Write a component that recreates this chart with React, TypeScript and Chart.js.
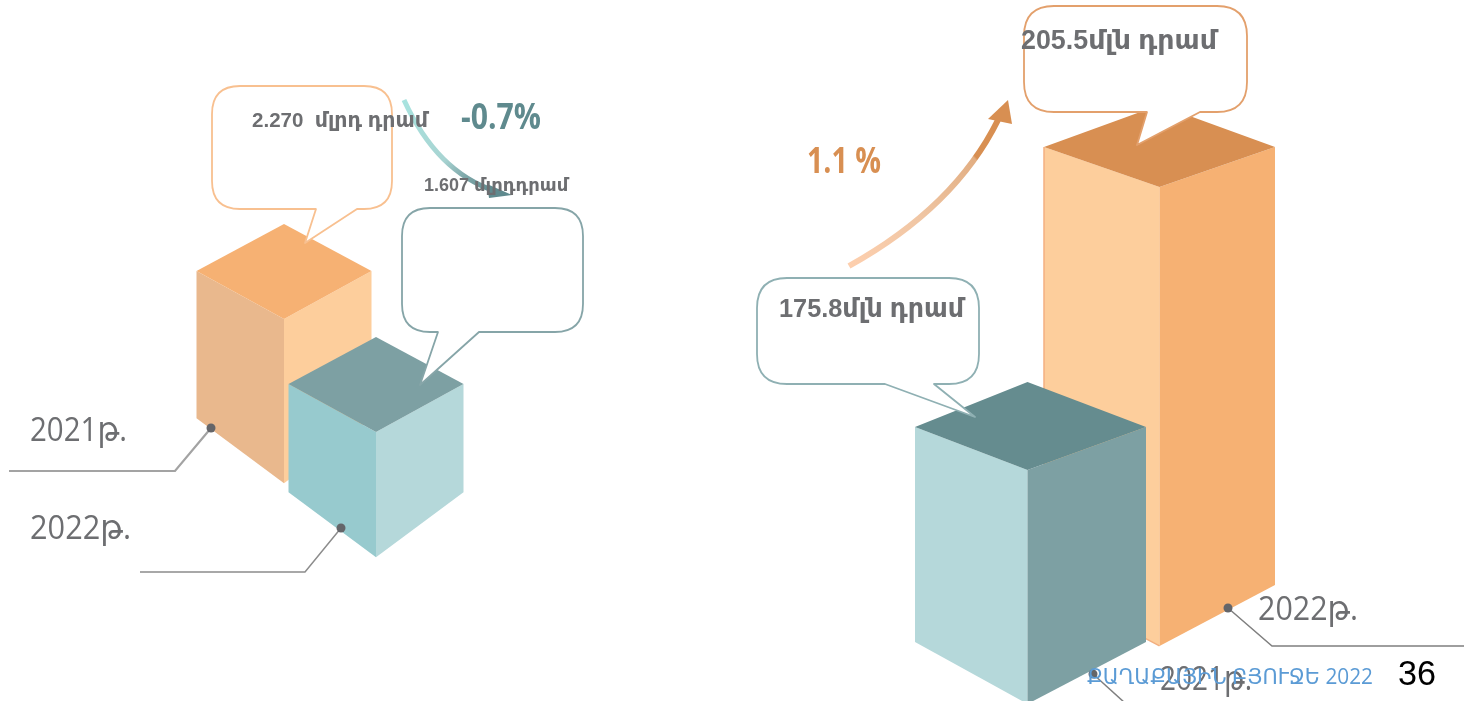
import React, { useEffect, useRef } from "react";
import { Chart, registerables } from "chart.js";

Chart.register(...registerables);

// ---------- data ----------
const spendingYears = ["2021թ.", "2022թ."];
const spendingTops = [2.27, 1.607];
const spendingFloors = [1.405, 0.972];
const spendingLabels = ["2.270  մլրդ դրամ", "1.607 մլրդդրամ"];
const spendingChange = "-0.7%";

const revenueYears = ["2022թ.", "2021թ."];
const revenueTops = [205.5, 175.8];
const revenueFloors = [159.05, 153.0];
const revenueLabels = ["205.5մլն դրամ", "175.8մլն դրամ"];
const revenueChange = "1.1 %";

const footerText = "ՔԱՂԱՔԱՅԻՆ ԲՅՈՒՋԵ 2022";
const pageNumber = "36";

// ---------- styles ----------
const GREY = "#6D6E71";
const SANS = '"Liberation Sans", "DejaVu Sans", sans-serif';
const LIGHT = '"Open Sans", "DejaVu Sans", sans-serif';

type Pt = [number, number];
type Callout = { x: number; y: number; w: number; h: number; r: number; tail: [Pt, Pt, Pt]; stroke: string };
type Txt = { s: string; x: number; y: number; font: string; color: string; maxW?: number };
type Leader = { pts: Pt[]; color: string; width: number };
type Arrow = { from: Pt; ctrl: Pt; to: Pt; width: number; stops: [number, string][]; head: Pt[]; headColor: string };
type Face = { left: string; right: string; top: string; edge?: string; rise: number; fall: number; drop: number; skew: number };

type Panel = {
  left: number;
  labels: string[];
  tops: number[];
  floors: number[];
  yMin: number;
  yMax: number;
  padLeft: number;
  padRight: number;
  thickness: number;
  reverse: boolean;
  faces: Face[];
  callouts: Callout[];
  texts: Txt[];
  leaders: Leader[];
  arrow: Arrow;
};

const spendingPanel: Panel = {
  left: 0,
  labels: spendingYears,
  tops: spendingTops,
  floors: spendingFloors,
  yMin: -0.2535,
  yMax: 3.86,
  padLeft: 238,
  padRight: 310,
  thickness: 175,
  reverse: false,
  faces: [
    { left: "#E9B88D", right: "#FDCE9C", top: "#F6B173", rise: 47, fall: 48, drop: 65, skew: 0 },
    { left: "#97CACE", right: "#B5D8DA", top: "#7DA0A3", rise: 47, fall: 48, drop: 65, skew: 0 },
  ],
  callouts: [
    { x: 212, y: 86, w: 180, h: 123, r: 28, tail: [[316, 209], [305, 243], [357, 209]], stroke: "#F8C090" },
    { x: 402, y: 208, w: 181, h: 124, r: 28, tail: [[438, 332], [420, 385], [479, 332]], stroke: "#86A5A8" },
  ],
  texts: [
    { s: spendingLabels[0], x: 252, y: 127, font: `bold 21px ${SANS}`, color: GREY, maxW: 176 },
    { s: spendingLabels[1], x: 424, y: 191, font: `bold 18px ${SANS}`, color: GREY, maxW: 145 },
    { s: spendingChange, x: 461, y: 129, font: `bold 35px ${LIGHT}`, color: "#5F8A8E", maxW: 80 },
    { s: spendingYears[0], x: 30, y: 441, font: `33px ${LIGHT}`, color: GREY, maxW: 97 },
    { s: spendingYears[1], x: 30, y: 539, font: `33px ${LIGHT}`, color: GREY, maxW: 101 },
  ],
  leaders: [
    { pts: [[211, 428], [175, 471], [9, 471]], color: "#A3A3A3", width: 2.2 },
    { pts: [[341, 528], [305, 572], [140, 572]], color: "#8C8C8C", width: 1.5 },
  ],
  arrow: {
    from: [404, 100],
    ctrl: [437, 172],
    to: [495, 191],
    width: 5,
    stops: [[0, "#A8E3DF"], [0.55, "#A8D4D2"], [0.75, "#7FA8AA"], [1, "#5F8A8E"]],
    head: [[512, 195], [487, 184], [489, 198]],
    headColor: "#5F8A8E",
  },
};

const revenuePanel: Panel = {
  left: 732,
  labels: revenueYears,
  tops: revenueTops,
  floors: revenueFloors,
  yMin: 146.74,
  yMax: 221.09,
  padLeft: 234,
  padRight: 240,
  thickness: 231,
  reverse: true,
  faces: [
    { left: "#FDCE9C", right: "#F6B173", top: "#D88F52", edge: "#F3B081", rise: 42, fall: 40, drop: 61, skew: 0 },
    { left: "#B5D8DA", right: "#7DA0A3", top: "#658C8F", rise: 45, fall: 43, drop: 62, skew: -3 },
  ],
  callouts: [
    { x: 1024, y: 6, w: 223, h: 106, r: 30, tail: [[1147, 112], [1137, 145], [1200, 112]], stroke: "#E3A06C" },
    { x: 757, y: 278, w: 222, h: 106, r: 30, tail: [[885, 384], [975, 417], [934, 384]], stroke: "#8FB0B3" },
  ],
  texts: [
    { s: revenueLabels[0], x: 1021, y: 49, font: `bold 27px ${SANS}`, color: GREY, maxW: 196 },
    { s: revenueLabels[1], x: 779, y: 317, font: `bold 26px ${SANS}`, color: GREY, maxW: 185 },
    { s: revenueChange, x: 807, y: 173, font: `bold 36px ${LIGHT}`, color: "#D88F52", maxW: 74 },
    { s: revenueYears[0], x: 1258, y: 620, font: `33px ${LIGHT}`, color: GREY, maxW: 100 },
    { s: revenueYears[1], x: 1160, y: 690, font: `33px ${LIGHT}`, color: GREY, maxW: 92 },
    { s: footerText, x: 1087, y: 684, font: `21.5px ${LIGHT}`, color: "#5B9BD5", maxW: 286 },
    { s: pageNumber, x: 1398, y: 685, font: `35px ${SANS}`, color: "#000000", maxW: 38 },
  ],
  leaders: [
    { pts: [[1228, 608], [1272, 646], [1464, 646]], color: "#7F7F7F", width: 1.5 },
    { pts: [[1093, 674], [1125, 703]], color: "#7F7F7F", width: 1.5 },
  ],
  arrow: {
    from: [849, 266],
    ctrl: [955, 207],
    to: [998, 120],
    width: 6,
    stops: [[0, "#FDCFAE"], [0.4, "#F0C6A4"], [0.79, "#E2AE82"], [0.8, "#D88F52"], [1, "#D88F52"]],
    head: [[1008, 100], [988, 119], [1012, 124]],
    headColor: "#D88F52",
  },
};

function poly(ctx: CanvasRenderingContext2D, pts: Pt[], fill: string) {
  ctx.beginPath();
  pts.forEach(([x, y], i) => (i ? ctx.lineTo(x, y) : ctx.moveTo(x, y)));
  ctx.closePath();
  ctx.fillStyle = fill;
  ctx.fill();
}

function drawCallout(ctx: CanvasRenderingContext2D, c: Callout) {
  const { x, y, w, h, r } = c;
  const [a, tip, b] = c.tail;
  ctx.beginPath();
  ctx.moveTo(x + r, y);
  ctx.lineTo(x + w - r, y);
  ctx.quadraticCurveTo(x + w, y, x + w, y + r);
  ctx.lineTo(x + w, y + h - r);
  ctx.quadraticCurveTo(x + w, y + h, x + w - r, y + h);
  ctx.lineTo(b[0], b[1]);
  ctx.lineTo(tip[0], tip[1]);
  ctx.lineTo(a[0], a[1]);
  ctx.lineTo(x + r, y + h);
  ctx.quadraticCurveTo(x, y + h, x, y + h - r);
  ctx.lineTo(x, y + r);
  ctx.quadraticCurveTo(x, y, x + r, y);
  ctx.closePath();
  ctx.fillStyle = "#FFFFFF";
  ctx.fill();
  ctx.strokeStyle = c.stroke;
  ctx.lineWidth = 1.8;
  ctx.lineJoin = "round";
  ctx.stroke();
}

function drawArrow(ctx: CanvasRenderingContext2D, a: Arrow) {
  const g = ctx.createLinearGradient(a.from[0], a.from[1], a.to[0], a.to[1]);
  a.stops.forEach(([o, col]) => g.addColorStop(o, col));
  ctx.beginPath();
  ctx.moveTo(a.from[0], a.from[1]);
  ctx.quadraticCurveTo(a.ctrl[0], a.ctrl[1], a.to[0], a.to[1]);
  ctx.strokeStyle = g;
  ctx.lineWidth = a.width;
  ctx.lineCap = "butt";
  ctx.stroke();
  poly(ctx, a.head, a.headColor);
}

function boxPlugin(p: Panel) {
  return {
    id: "isoBoxes",
    beforeDatasetDraw() {
      return false;
    },
    afterDatasetsDraw(chart: any) {
      const ctx: CanvasRenderingContext2D = chart.ctx;
      const meta = chart.getDatasetMeta(0);
      ctx.save();
      meta.data.forEach((el: any, i: number) => {
        const { x, y, base, width } = el.getProps(["x", "y", "base", "width"], true);
        const f = p.faces[i];
        const l = x - width / 2;
        const r = x + width / 2;
        const c = x + f.skew;
        poly(ctx, [[l, y], [c, y + f.fall], [c, base + f.drop], [l, base]], f.left);
        poly(ctx, [[c, y + f.fall], [r, y], [r, base], [c, base + f.drop]], f.right);
        poly(ctx, [[l, y], [c, y - f.rise], [r, y], [c, y + f.fall]], f.top);
        if (f.edge) {
          ctx.beginPath();
          ctx.moveTo(l, y);
          ctx.lineTo(l, base);
          ctx.lineTo(c, base + f.drop);
          ctx.strokeStyle = f.edge;
          ctx.lineWidth = 1.5;
          ctx.stroke();
        }
      });
      ctx.translate(-p.left, 0);
      p.callouts.forEach((c) => drawCallout(ctx, c));
      drawArrow(ctx, p.arrow);
      p.leaders.forEach((l) => {
        ctx.beginPath();
        l.pts.forEach(([x, y], i) => (i ? ctx.lineTo(x, y) : ctx.moveTo(x, y)));
        ctx.strokeStyle = l.color;
        ctx.lineWidth = l.width;
        ctx.lineJoin = "miter";
        ctx.stroke();
        ctx.beginPath();
        ctx.arc(l.pts[0][0], l.pts[0][1], 4.5, 0, Math.PI * 2);
        ctx.fillStyle = "#646569";
        ctx.fill();
      });
      ctx.textBaseline = "alphabetic";
      ctx.textAlign = "left";
      p.texts.forEach((t) => {
        ctx.font = t.font;
        ctx.fillStyle = t.color;
        ctx.fillText(t.s, t.x, t.y, t.maxW);
      });
      ctx.restore();
    },
  };
}

function PanelChart({ panel }: { panel: Panel }) {
  const ref = useRef<HTMLCanvasElement>(null);
  useEffect(() => {
    const chart = new Chart(ref.current as HTMLCanvasElement, {
      type: "bar",
      data: {
        labels: panel.labels,
        datasets: [
          {
            label: "value",
            data: panel.tops.map((t, i) => [panel.floors[i], t]),
            backgroundColor: panel.faces.map((f) => f.left),
            barThickness: panel.thickness,
          },
        ],
      },
      options: {
        animation: false,
        responsive: false,
        layout: { padding: { left: panel.padLeft, right: panel.padRight, top: 0, bottom: 0 } },
        plugins: { legend: { display: false }, tooltip: { enabled: false }, title: { display: false } },
        scales: {
          x: { display: false, reverse: panel.reverse },
          y: { display: false, min: panel.yMin, max: panel.yMax },
        },
      },
      plugins: [boxPlugin(panel)],
    } as any);
    return () => chart.destroy();
  }, [panel]);
  return (
    <canvas
      ref={ref}
      width={732}
      height={701}
      style={{ position: "absolute", left: panel.left, top: 0, width: 732, height: 701 }}
    />
  );
}

export default function App() {
  return (
    <div style={{ position: "absolute", left: 0, top: 0, width: 1464, height: 701, overflow: "hidden", background: "#FFFFFF" }}>
      <PanelChart panel={spendingPanel} />
      <PanelChart panel={revenuePanel} />
    </div>
  );
}
